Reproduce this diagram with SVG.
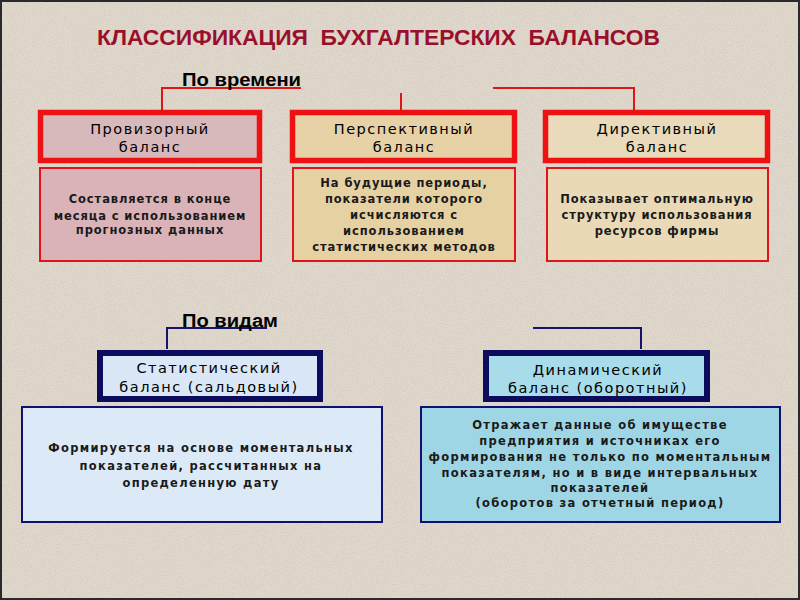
<svg xmlns="http://www.w3.org/2000/svg" width="800" height="600" viewBox="0 0 800 600">
<style>
.title{font-family:"Liberation Sans",Arial,sans-serif;font-weight:bold;font-size:22px;fill:#9a0f2c;white-space:pre}
.group{font-family:"Liberation Sans",Arial,sans-serif;font-weight:bold;font-size:18px;fill:#000}
.lbl{font-family:"DejaVu Sans",Verdana,sans-serif;font-size:14.5px;fill:#000;letter-spacing:1.5px;text-anchor:middle}
.desc{font-family:"DejaVu Sans",Verdana,sans-serif;font-size:11.5px;font-weight:bold;fill:#1a1a1a;letter-spacing:0.9px;text-anchor:middle}
.desc2{letter-spacing:1.3px}
.redbox{stroke:#ee1111;stroke-width:5.5}
.reddesc{stroke:#e0141a;stroke-width:2}
.bluebox{stroke:#0c0c5e;stroke-width:6}
.bluedesc{stroke:#101070;stroke-width:2}
.red{stroke:#e01515;stroke-width:2;fill:none}
.navy{stroke:#14146a;stroke-width:2;fill:none}
</style>
<defs>
<filter id="noise" x="0" y="0" width="100%" height="100%">
<feTurbulence type="fractalNoise" baseFrequency="0.9" numOctaves="2" seed="3" result="n"/>
<feColorMatrix in="n" type="matrix" values="0 0 0 0 0.45  0 0 0 0 0.4  0 0 0 0 0.35  0 0 0 -1.2 0.75" result="m"/>
<feComposite in="m" in2="SourceGraphic" operator="in"/>
</filter>
</defs>
<rect x="0" y="0" width="800" height="600" fill="#e1d9cd"/>
<rect x="0" y="0" width="800" height="600" fill="#e1d9cd" filter="url(#noise)" opacity="0.5"/>
<rect x="1" y="1" width="798" height="598" fill="none" stroke="#2a2a2a" stroke-width="2"/>

<text id="title" class="title" x="97" y="45" textLength="563" lengthAdjust="spacingAndGlyphs">КЛАССИФИКАЦИЯ  БУХГАЛТЕРСКИХ  БАЛАНСОВ</text>

<g id="connectors">
<path class="red" d="M162 111 V88 H301"/>
<path class="red" d="M401 93 V111"/>
<path class="red" d="M493 88 H634 V111"/>
<path class="navy" d="M167 349 V328 H267"/>
<path class="navy" d="M533 328 H641 V349"/>
</g>

<g id="group-time"><text class="group" x="182" y="86" textLength="119" lengthAdjust="spacingAndGlyphs">По времени</text></g>
<g id="group-kind"><text class="group" x="182" y="327" textLength="96" lengthAdjust="spacingAndGlyphs">По видам</text></g>

<g id="provisional">
<rect class="redbox" x="40.5" y="112.5" width="219" height="48" fill="#d8b9bb"/>
<text class="lbl" x="150" y="134">Провизорный</text>
<text class="lbl" x="150" y="152">баланс</text>
</g>
<g id="provisional-desc">
<rect class="reddesc" x="40" y="168" width="221" height="93" fill="#d9b3b7"/>
<text class="desc" x="150" y="203">Составляется в конце</text>
<text class="desc" x="150" y="220">месяца с использованием</text>
<text class="desc" x="150" y="234">прогнозных данных</text>
</g>

<g id="perspective">
<rect class="redbox" x="292.5" y="112.5" width="222" height="48" fill="#e6d2a6"/>
<text class="lbl" x="404" y="134">Перспективный</text>
<text class="lbl" x="404" y="152">баланс</text>
</g>
<g id="perspective-desc">
<rect class="reddesc" x="293" y="168" width="222" height="93" fill="#e6d1a3"/>
<text class="desc" x="404" y="187">На будущие периоды,</text>
<text class="desc" x="404" y="203">показатели которого</text>
<text class="desc" x="404" y="219">исчисляются с</text>
<text class="desc" x="404" y="235">использованием</text>
<text class="desc" x="404" y="251">статистических методов</text>
</g>

<g id="directive">
<rect class="redbox" x="545.5" y="112.5" width="222" height="48" fill="#e9dabb"/>
<text class="lbl" x="657" y="134">Директивный</text>
<text class="lbl" x="657" y="152">баланс</text>
</g>
<g id="directive-desc">
<rect class="reddesc" x="547" y="168" width="221" height="93" fill="#e9d9b6"/>
<text class="desc" x="657" y="203">Показывает оптимальную</text>
<text class="desc" x="657" y="219">структуру использования</text>
<text class="desc" x="657" y="235">ресурсов фирмы</text>
</g>

<g id="statistical">
<rect class="bluebox" x="100" y="353" width="220" height="46" fill="#d9e7f6"/>
<text class="lbl" x="209" y="373">Статистический</text>
<text class="lbl" x="209" y="392">баланс (сальдовый)</text>
</g>
<g id="statistical-desc">
<rect class="bluedesc" x="22" y="407" width="360" height="115" fill="#dceaf8"/>
<text class="desc desc2" x="201" y="452">Формируется на основе моментальных</text>
<text class="desc desc2" x="201" y="470">показателей, рассчитанных на</text>
<text class="desc desc2" x="201" y="487">определенную дату</text>
</g>

<g id="dynamic">
<rect class="bluebox" x="486" y="353" width="221" height="46" fill="#a9dcea"/>
<text class="lbl" x="598" y="375">Динамический</text>
<text class="lbl" x="598" y="393">баланс (оборотный)</text>
</g>
<g id="dynamic-desc">
<rect class="bluedesc" x="421" y="407" width="359" height="115" fill="#9fd6e6"/>
<text class="desc desc2" x="600" y="429">Отражает данные об имуществе</text>
<text class="desc desc2" x="600" y="445">предприятия и источниках его</text>
<text class="desc desc2" x="600" y="461">формирования не только по моментальным</text>
<text class="desc desc2" x="600" y="477">показателям, но и в виде интервальных</text>
<text class="desc desc2" x="600" y="492">показателей</text>
<text class="desc desc2" x="600" y="507">(оборотов за отчетный период)</text>
</g>
</svg>
